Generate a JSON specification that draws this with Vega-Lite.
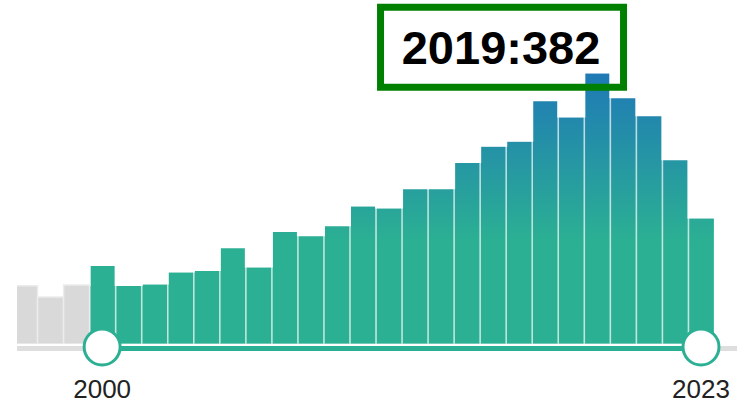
{
  "$schema": "https://vega.github.io/schema/vega-lite/v6.json",
  "width": 697,
  "height": 344,
  "autosize": {"type": "none"},
  "padding": {"left": 17, "top": 0, "right": 31, "bottom": 58},
  "background": "white",
  "view": {
    "stroke": null,
    "fill": {
      "gradient": "linear",
      "x1": 0, "y1": 0, "x2": 0, "y2": 1,
      "stops": [
        {"offset": 0, "color": "#1d70b8"},
        {"offset": 0.21, "color": "#1f79b6"},
        {"offset": 0.7, "color": "#2bb093"},
        {"offset": 1, "color": "#2bb093"}
      ]
    }
  },
  "data": {
    "values": [
      {"year": 1997, "count": 82},
      {"year": 1998, "count": 66},
      {"year": 1999, "count": 83},
      {"year": 2000, "count": 111},
      {"year": 2001, "count": 83},
      {"year": 2002, "count": 85},
      {"year": 2003, "count": 102},
      {"year": 2004, "count": 104},
      {"year": 2005, "count": 136},
      {"year": 2006, "count": 109},
      {"year": 2007, "count": 159},
      {"year": 2008, "count": 153},
      {"year": 2009, "count": 167},
      {"year": 2010, "count": 195},
      {"year": 2011, "count": 192},
      {"year": 2012, "count": 219},
      {"year": 2013, "count": 219},
      {"year": 2014, "count": 256},
      {"year": 2015, "count": 279},
      {"year": 2016, "count": 286},
      {"year": 2017, "count": 343},
      {"year": 2018, "count": 320},
      {"year": 2019, "count": 382},
      {"year": 2020, "count": 347},
      {"year": 2021, "count": 322},
      {"year": 2022, "count": 260},
      {"year": 2023, "count": 178}
    ]
  },
  "layer": [
    {
      "mark": {"type": "bar", "fill": "white", "stroke": "white", "strokeWidth": 2, "binSpacing": 0, "clip": true},
      "encoding": {
        "x": {"field": "year", "type": "quantitative", "bin": {"step": 1, "extent": [1997, 2024]}, "axis": null, "scale": {"domain": [1997.23, 2024], "nice": false, "zero": false}},
        "y": {"field": "count", "type": "quantitative", "axis": null, "scale": {"domain": [0, 484], "nice": false}},
        "y2": {"datum": 484}
      }
    },
    {
      "transform": [{"filter": "datum.year >= 2000"}],
      "mark": {"type": "bar", "fill": null, "fillOpacity": 0, "stroke": "white", "strokeOpacity": 0.45, "strokeWidth": 1.5, "binSpacing": 0, "clip": true},
      "encoding": {
        "x": {"field": "year", "type": "quantitative", "bin": {"step": 1, "extent": [1997, 2024]}},
        "y": {"field": "count", "type": "quantitative"}
      }
    },
    {
      "transform": [{"filter": "datum.year < 2000"}],
      "mark": {"type": "bar", "fill": "#d9d9d9", "stroke": "#ececec", "strokeWidth": 1.5, "binSpacing": 0, "clip": true},
      "encoding": {
        "x": {"field": "year", "type": "quantitative", "bin": {"step": 1, "extent": [1997, 2024]}},
        "y": {"field": "count", "type": "quantitative"}
      }
    },
    {
      "mark": {"type": "rule", "stroke": "#dedede", "strokeWidth": 4, "yOffset": 4.5},
      "encoding": {
        "x": {"datum": 1997.23},
        "x2": {"datum": 2024.88},
        "y": {"datum": 0}
      }
    },
    {
      "mark": {"type": "rule", "stroke": "#2bb093", "strokeWidth": 3.5, "yOffset": 4.5},
      "encoding": {
        "x": {"datum": 2000.5},
        "x2": {"datum": 2023.5},
        "y": {"datum": 0}
      }
    },
    {
      "transform": [{"filter": "datum.year == 2000 || datum.year == 2023"}],
      "mark": {"type": "point", "shape": "circle", "size": 1296, "filled": true, "fill": "white", "stroke": "#2bb093", "strokeWidth": 3, "opacity": 1, "yOffset": 3},
      "encoding": {
        "x": {"field": "year", "type": "quantitative", "bin": {"step": 1, "extent": [1997, 2024]}},
        "y": {"datum": 0}
      }
    },
    {
      "transform": [{"filter": "datum.year == 2000 || datum.year == 2023"}],
      "mark": {"type": "text", "font": "Liberation Sans", "fontSize": 26, "color": "#222222", "align": "center", "baseline": "alphabetic", "yOffset": 53.5},
      "encoding": {
        "x": {"field": "year", "type": "quantitative", "bin": {"step": 1, "extent": [1997, 2024]}},
        "y": {"datum": 0},
        "text": {"field": "year", "type": "nominal"}
      }
    },
    {
      "transform": [{"filter": "datum.year == 2019"}],
      "mark": {"type": "point", "shape": "M-1,-0.3292L1,-0.3292L1,0.3292L-1,0.3292Z", "size": 59049, "filled": false, "fill": null, "stroke": "#008000", "strokeWidth": 7, "opacity": 1, "xOffset": -94.8, "yOffset": -25.2},
      "encoding": {
        "x": {"field": "year", "type": "quantitative", "bin": {"step": 1, "extent": [1997, 2024]}},
        "y": {"field": "count", "type": "quantitative"}
      }
    },
    {
      "transform": [{"filter": "datum.year == 2019"}],
      "mark": {"type": "text", "font": "Liberation Sans", "fontSize": 47, "fontWeight": "bold", "color": "#000000", "align": "center", "baseline": "alphabetic", "xOffset": -95.8, "yOffset": -8.7},
      "encoding": {
        "x": {"field": "year", "type": "quantitative", "bin": {"step": 1, "extent": [1997, 2024]}},
        "y": {"field": "count", "type": "quantitative"},
        "text": {"value": "2019:382"}
      }
    }
  ]
}
